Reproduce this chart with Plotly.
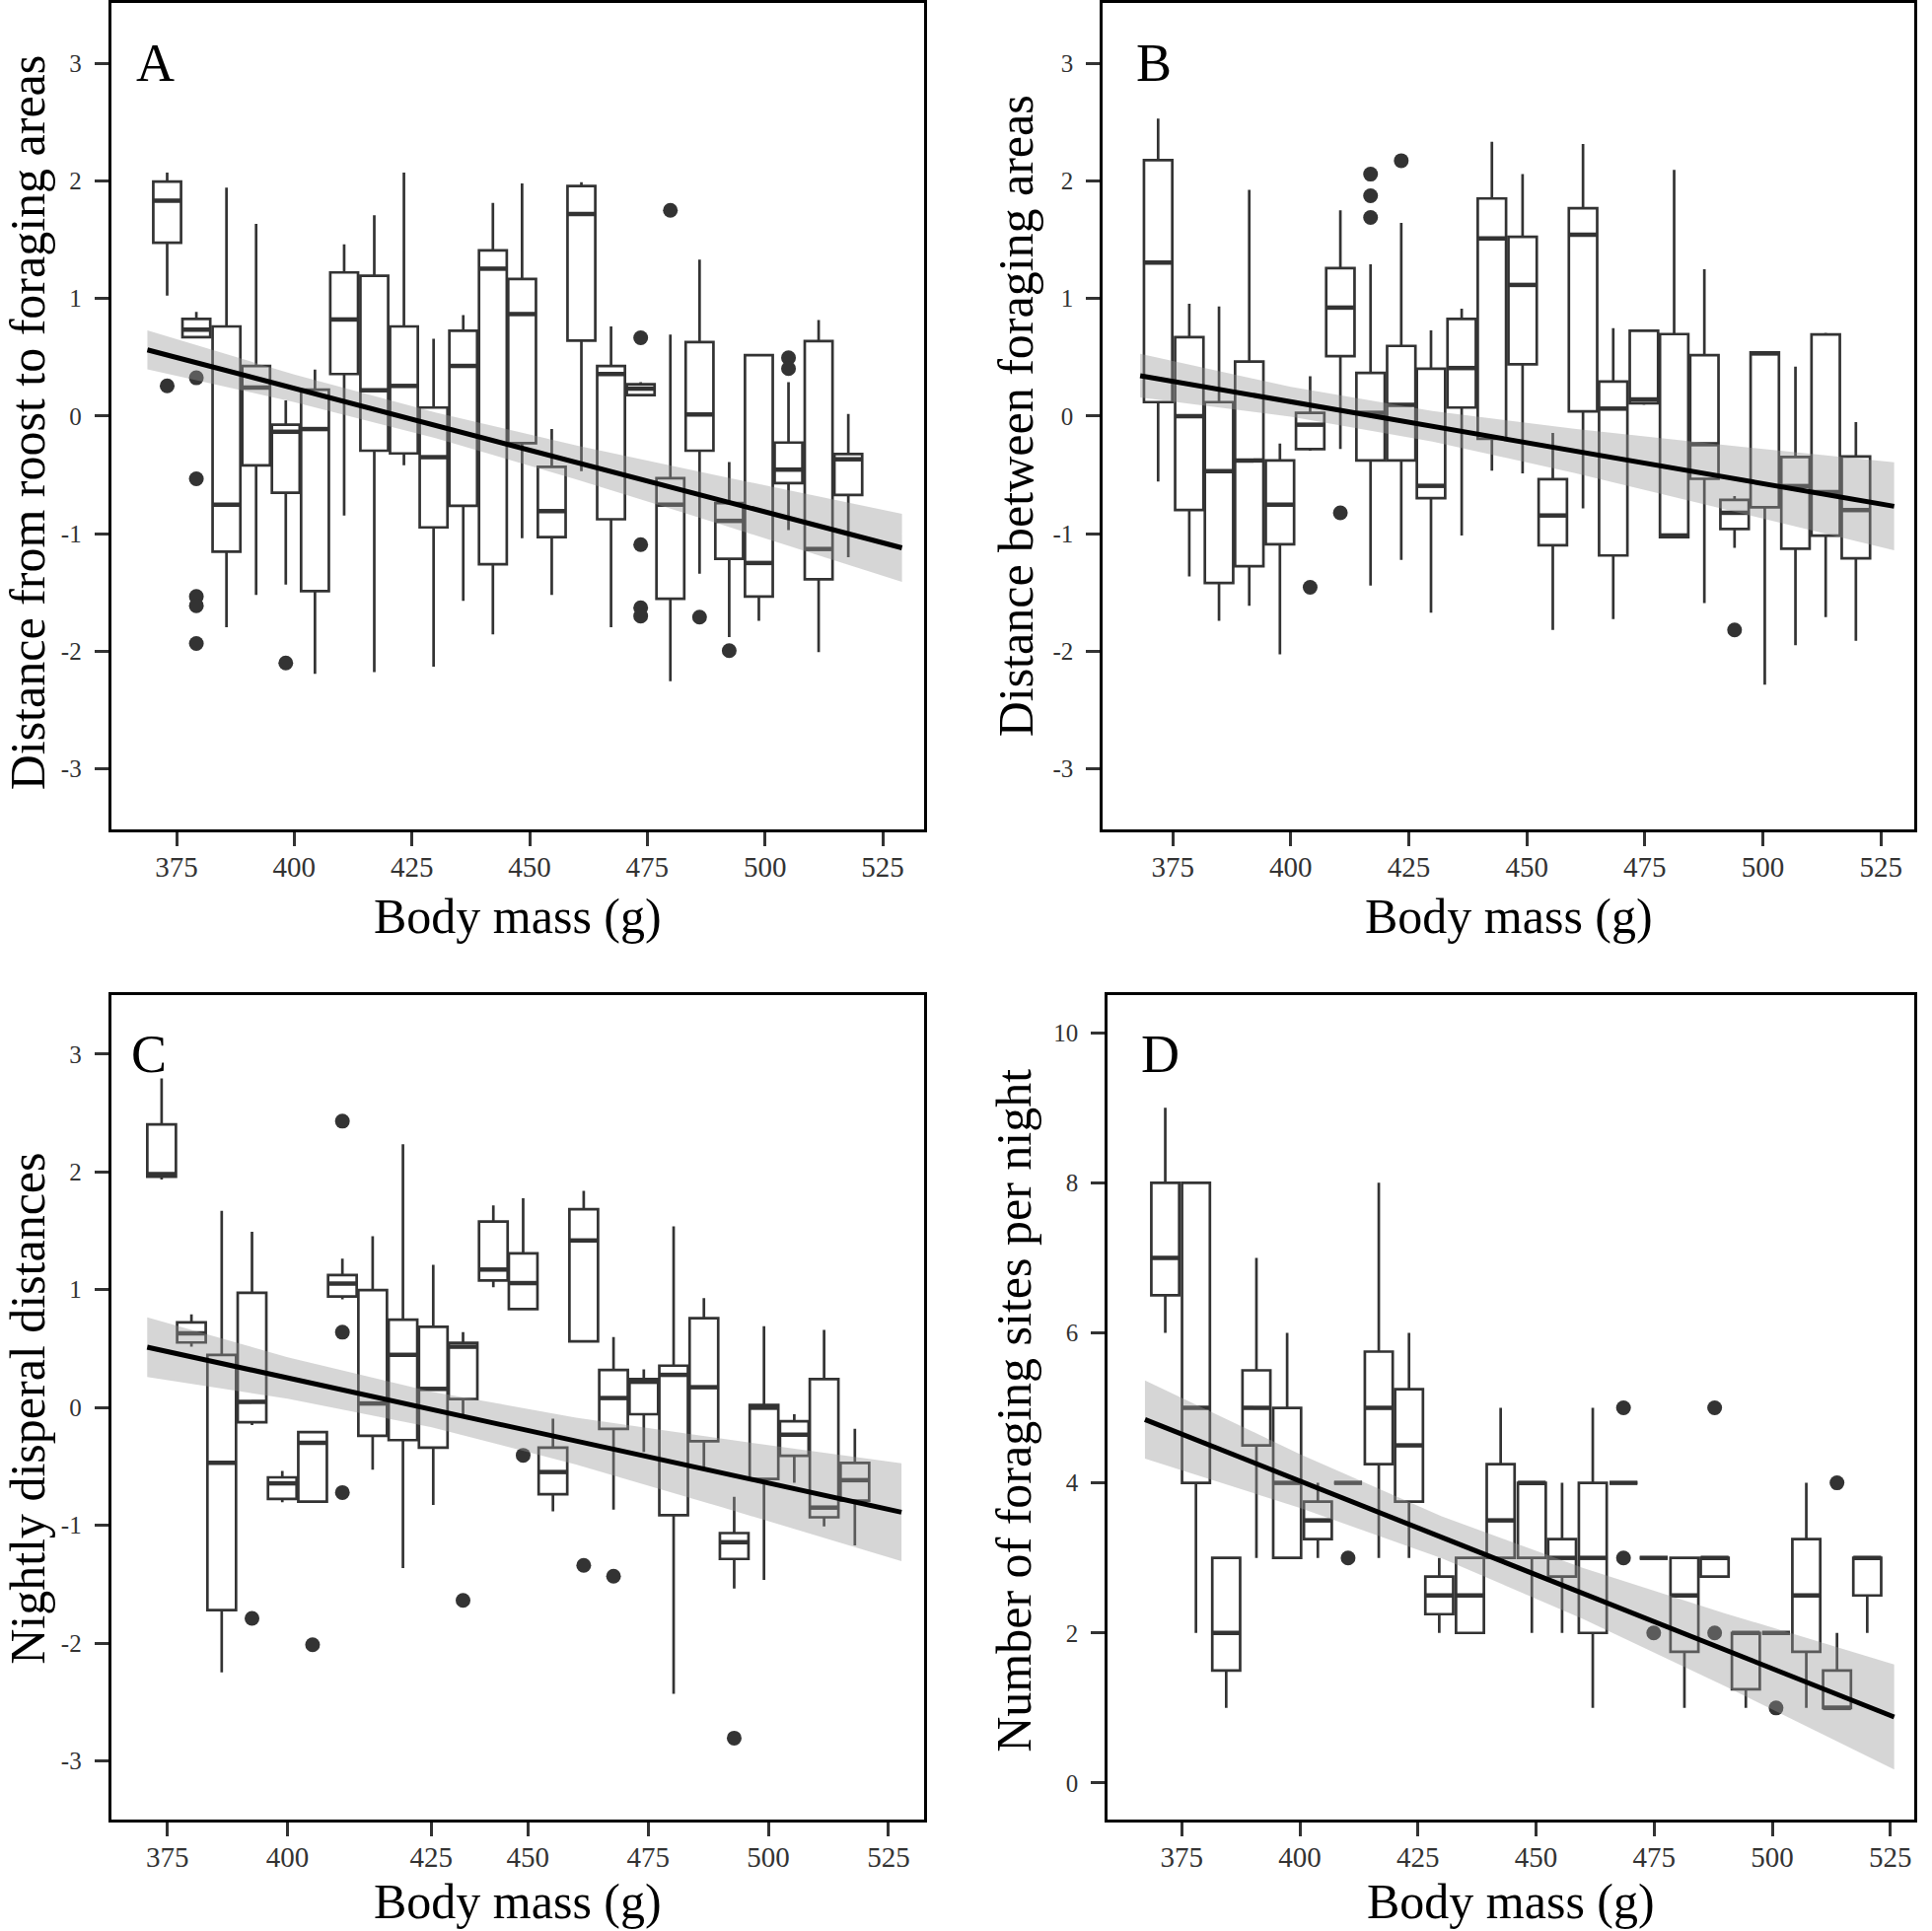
import plotly.graph_objects as go

# ---------------- Panel A: Distance from roost to foraging areas ----------------
A_mass = [373.0, 379.2, 385.6, 391.9, 398.2, 404.4, 410.6, 417.0, 423.3, 429.6, 435.9, 442.2,
          448.4, 454.7, 461.0, 467.3, 473.6, 479.9, 486.1, 492.4, 498.7, 505.0, 511.4, 517.7]
A_low = [1.024, 0.671, -1.796, -1.52, -1.433, -2.191, -0.845, -2.177, -0.418, -2.131, -1.571, -1.856,
         -1.038, -1.52, -0.469, -1.796, 0.179, -2.255, -1.341, -1.88, -1.741, -0.969, -2.007, -1.199]
A_q1 = [1.475, 0.671, -1.153, -0.418, -0.652, -1.488, 0.358, -0.294, -0.317, -0.946, -0.763, -1.259,
        -0.23, -1.029, 0.643, -0.877, 0.179, -1.553, -0.294, -1.213, -1.534, -0.57, -1.387, -0.671]
A_med = [1.833, 0.735, -0.753, 0.243, -0.133, -0.11, 0.822, 0.22, 0.257, -0.349, 0.427, 1.254,
         0.868, -0.808, 1.718, 0.358, 0.234, -0.753, 0.014, -0.891, -1.249, -0.455, -1.13, -0.367]
A_q3 = [1.994, 0.827, 0.763, 0.427, -0.073, 0.225, 1.222, 1.194, 0.763, 0.073, 0.726, 1.41,
        1.167, -0.432, 1.957, 0.427, 0.271, -0.528, 0.629, -0.74, 0.519, -0.225, 0.638, -0.322]
A_up = [2.072, 0.887, 1.943, 1.635, 0.133, 0.395, 1.461, 1.709, 2.072, 0.657, 0.859, 1.814,
        1.98, -0.11, 1.989, 0.763, 0.289, 0.694, 1.332, -0.39, 0.519, 0.289, 0.818, 0.018]
A_out_box = [0, 1, 1, 1, 1, 1, 4, 16, 16, 16, 16, 17, 18, 19, 21, 21]
A_out_val = [0.257, 0.326, -0.533, -1.534, -1.612, -1.934, -2.099, 0.666, -1.093, -1.63, -1.70,
             1.75, -1.709, -1.994, 0.496, 0.404]
A_fit_mass = [368.8, 529.1]
A_fit_val = [0.564, -1.12]
A_band_mass = [368.8, 400, 430, 460, 490, 529.1]
A_band_hi = [0.729, 0.353, 0.030, -0.249, -0.506, -0.83]
A_band_lo = [0.399, 0.119, -0.188, -0.539, -0.912, -1.41]

# ---------------- Panel B: Distance between foraging areas ----------------
B_mass = [371.9, 378.5, 384.8, 391.2, 397.7, 404.1, 410.5, 416.9, 423.4, 429.7, 436.2, 442.6,
          449.1, 455.5, 461.9, 468.3, 474.8, 481.2, 487.6, 494.0, 500.4, 506.9, 513.3, 519.7]
B_low = [-0.556, -1.364, -1.741, -1.612, -2.026, -0.294, -0.28, -1.442, -1.222, -1.672, -1.015, -0.464,
         -0.487, -1.819, -0.785, -1.727, 0.096, -1.038, -1.589, -1.121, -2.283, -1.948, -1.709, -1.911]
B_q1 = [0.119, -0.799, -1.419, -1.277, -1.089, -0.28, 0.51, -0.377, -0.377, -0.698, 0.073, -0.193,
        0.441, -1.098, 0.041, -1.185, 0.11, -1.029, -0.533, -0.96, -0.776, -1.128, -1.017, -1.209]
B_med = [1.305, 0.0, -0.469, -0.377, -0.753, -0.073, 0.923, 0.028, 0.096, -0.593, 0.409, 1.511,
         1.116, -0.845, 1.543, 0.064, 0.142, -1.015, -0.239, -0.822, 0.533, -0.595, -0.646, -0.799]
B_q3 = [2.177, 0.671, 0.119, 0.464, -0.377, 0.028, 1.259, 0.367, 0.597, 0.404, 0.827, 1.851,
        1.525, -0.537, 1.768, 0.294, 0.726, 0.698, 0.519, -0.712, 0.542, -0.347, 0.694, -0.344]
B_up = [2.531, 0.955, 0.932, 1.925, -0.234, 0.34, 1.75, 1.291, 1.644, 0.73, 0.914, 2.333,
        2.058, -0.142, 2.315, 0.749, 0.726, 2.095, 1.249, -0.68, 0.542, 0.421, 0.709, -0.051]
B_out_box = [5, 6, 7, 7, 7, 8, 19]
B_out_val = [-1.456, -0.822, 2.058, 1.874, 1.69, 2.173, -1.819]
B_fit_mass = [368.1, 527.8]
B_fit_val = [0.344, -0.767]
B_band_mass = [368.1, 400, 430, 460, 490, 527.8]
B_band_hi = [0.530, 0.249, 0.043, -0.108, -0.238, -0.393]
B_band_lo = [0.158, -0.005, -0.217, -0.482, -0.770, -1.141]

# ---------------- Panel C: Nightly disperal distances ----------------
C_mass = [373.8, 380.0, 386.3, 392.6, 398.9, 405.2, 411.4, 417.7, 424.0, 430.3, 436.5, 442.8,
          449.0, 455.2, 461.6, 467.8, 474.1, 480.3, 486.6, 492.9, 499.1, 505.4, 511.6, 518.0]
C_low = [1.936, 0.516, -2.248, -0.149, -0.804, -0.8, 0.919, -0.529, -1.363, -0.827, -0.057, 1.02,
         0.836, -0.882, 0.561, -0.868, -0.378, -2.431, -0.516, -1.538, -1.464, -0.639, -1.01, -1.171]
C_q1 = [1.959, 0.552, -1.721, -0.126, -0.777, -0.8, 0.942, -0.241, -0.277, -0.341, 0.071, 1.079,
        0.836, -0.736, 0.561, -0.181, -0.057, -0.914, -0.286, -1.286, -0.607, -0.41, -0.932, -0.791]
C_med = [1.982, 0.63, -0.47, 0.048, -0.644, -0.3, 1.052, 0.034, 0.447, 0.158, 0.516, 1.171,
         1.056, -0.548, 1.418, 0.08, 0.218, 0.277, 0.172, -1.144, -0.002, -0.231, -0.85, -0.617]
C_q3 = [2.404, 0.722, 0.447, 0.974, -0.593, -0.209, 1.125, 0.997, 0.745, 0.685, 0.548, 1.579,
        1.308, -0.341, 1.684, 0.319, 0.241, 0.355, 0.758, -1.066, 0.021, -0.117, 0.241, -0.47]
C_up = [2.793, 0.791, 1.67, 1.492, -0.538, -0.209, 1.263, 1.455, 2.234, 1.212, 0.639, 1.716,
        1.776, -0.094, 1.84, 0.598, 0.323, 1.538, 0.928, -0.758, 0.69, -0.057, 0.658, -0.181]
C_out_box = [3, 5, 6, 6, 6, 10, 12, 14, 15, 19]
C_out_val = [-1.79, -2.014, 2.431, 0.639, -0.722, -1.638, -0.406, -1.34, -1.432, -2.807]
C_fit_mass = [370.8, 527.7]
C_fit_val = [0.512, -0.889]
C_band_mass = [370.8, 400, 430, 460, 490, 527.7]
C_band_hi = [0.766, 0.427, 0.134, -0.086, -0.263, -0.474]
C_band_lo = [0.258, 0.075, -0.168, -0.484, -0.843, -1.304]
C_tick_pos = [375, 400, 429.9, 450, 475, 500, 525]
C_tick_text = ["375", "400", "425", "450", "475", "500", "525"]

# ---------------- Panel D: Number of foraging sites per night ----------------
D_mass = [371.5, 378.0, 384.4, 390.8, 397.3, 403.8, 410.2, 416.7, 423.1, 429.5, 436.0, 442.5,
          449.1, 455.5, 462.0, 468.5, 474.9, 481.4, 487.8, 494.4, 500.8, 507.2, 513.7, 520.1]
D_low = [6, 2, 1, 3, 3, 3, 4, 3, 3, 2, 2, 3, 2, 2, 1, 4, 3, 1, 2.75, 1, 2, 1, 1, 2]
D_q1 = [6.5, 4, 1.5, 4.5, 3, 3.25, 4, 4.25, 3.75, 2.25, 2, 3, 3, 2.75, 2, 4, 3, 1.75, 2.75, 1.25, 2, 1.75, 1, 2.5]
D_med = [7, 5, 2, 5, 4, 3.5, 4, 5, 4.5, 2.5, 2.5, 3.5, 4, 3, 3, 4, 3, 2.5, 3, 2, 2, 2.5, 1, 3]
D_q3 = [8, 8, 3, 5.5, 5, 3.75, 4, 5.75, 5.25, 2.75, 3, 4.25, 4, 3.25, 4, 4, 3, 3, 3, 2, 2, 3.25, 1.5, 3]
D_up = [9, 8, 3, 7, 6, 4, 4, 8, 6, 3, 3, 5, 4, 4, 5, 4, 3, 3, 3, 2, 2, 4, 2, 3]
D_out_box = [6, 15, 15, 16, 18, 18, 20, 22]
D_out_val = [3, 5, 3, 2, 5, 2, 1, 4]
D_fit_mass = [367.2, 525.8]
D_fit_val = [4.845, 0.88]
D_band_mass = [367.2, 400, 430, 460, 490, 525.8]
D_band_hi = [5.365, 4.384, 3.555, 2.865, 2.261, 1.58]
D_band_lo = [4.325, 3.666, 2.995, 2.185, 1.289, 0.18]

X_TICKS = [375, 400, 425, 450, 475, 500, 525]
X_TICK_TEXT = ["375", "400", "425", "450", "475", "500", "525"]
Y_TICKS_Z = [-3, -2, -1, 0, 1, 2, 3]
Y_TICK_TEXT_Z = ["-3", "-2", "-1", "0", "1", "2", "3"]
Y_TICKS_D = [0, 2, 4, 6, 8, 10]
Y_TICK_TEXT_D = ["0", "2", "4", "6", "8", "10"]

Y_TITLES = ["Distance from roost to foraging areas", "Distance between foraging areas",
            "Nightly disperal distances", "Number of foraging sites per night"]
LETTERS = ["A", "B", "C", "D"]
X_TITLE = "Body mass (g)"

FONT = "Liberation Serif"
DARK = "#333333"

panels = [
    dict(mass=A_mass, low=A_low, q1=A_q1, med=A_med, q3=A_q3, up=A_up, ob=A_out_box, ov=A_out_val,
         fm=A_fit_mass, fv=A_fit_val, bm=A_band_mass, bh=A_band_hi, bl=A_band_lo, w=5.9),
    dict(mass=B_mass, low=B_low, q1=B_q1, med=B_med, q3=B_q3, up=B_up, ob=B_out_box, ov=B_out_val,
         fm=B_fit_mass, fv=B_fit_val, bm=B_band_mass, bh=B_band_hi, bl=B_band_lo, w=6.0),
    dict(mass=C_mass, low=C_low, q1=C_q1, med=C_med, q3=C_q3, up=C_up, ob=C_out_box, ov=C_out_val,
         fm=C_fit_mass, fv=C_fit_val, bm=C_band_mass, bh=C_band_hi, bl=C_band_lo, w=5.95),
    dict(mass=D_mass, low=D_low, q1=D_q1, med=D_med, q3=D_q3, up=D_up, ob=D_out_box, ov=D_out_val,
         fm=D_fit_mass, fv=D_fit_val, bm=D_band_mass, bh=D_band_hi, bl=D_band_lo, w=5.9),
]

fig = go.Figure()
axn = ["", "2", "3", "4"]

# boxes first (drawn below scatter layers)
for i, p in enumerate(panels):
    fig.add_trace(go.Box(
        x=p["mass"], q1=p["q1"], median=p["med"], q3=p["q3"],
        lowerfence=p["low"], upperfence=p["up"], width=p["w"],
        boxpoints=False, whiskerwidth=0, fillcolor="white",
        line=dict(color=DARK, width=2.7), showlegend=False, hoverinfo="skip",
        xaxis="x" + axn[i], yaxis="y" + axn[i]))

for i, p in enumerate(panels):
    xa, ya = "x" + axn[i], "y" + axn[i]
    mx, my = [], []
    for m, v in zip(p["mass"], p["med"]):
        mx += [m - p["w"] / 2, m + p["w"] / 2, None]
        my += [v, v, None]
    fig.add_trace(go.Scatter(x=mx, y=my, mode="lines", line=dict(color=DARK, width=4.5),
                             showlegend=False, hoverinfo="skip", xaxis=xa, yaxis=ya))
    fig.add_trace(go.Scatter(x=[p["mass"][b] for b in p["ob"]], y=p["ov"], mode="markers",
                             marker=dict(color=DARK, size=15), showlegend=False,
                             hoverinfo="skip", xaxis=xa, yaxis=ya))
    fig.add_trace(go.Scatter(x=p["bm"] + p["bm"][::-1], y=p["bh"] + p["bl"][::-1],
                             fill="toself", fillcolor="rgba(153,153,153,0.4)",
                             line=dict(width=0), mode="lines", showlegend=False,
                             hoverinfo="skip", xaxis=xa, yaxis=ya))
    fig.add_trace(go.Scatter(x=p["fm"], y=p["fv"], mode="lines", line=dict(color="black", width=5),
                             showlegend=False, hoverinfo="skip", xaxis=xa, yaxis=ya))

W, H = 1959, 1958
common_x = dict(showgrid=False, zeroline=False, showline=True, mirror=True, linecolor="black",
                linewidth=3, ticks="outside", ticklen=14, tickwidth=3, tickcolor=DARK,
                tickfont=dict(family=FONT, size=29, color=DARK), ticklabelstandoff=-4)
common_y = dict(showgrid=False, zeroline=False, showline=True, mirror=True, linecolor="black",
                linewidth=3, ticks="outside", ticklen=14, tickwidth=3, tickcolor=DARK,
                tickfont=dict(family=FONT, size=25, color=DARK), ticklabelstandoff=8)

top_dom = [1 - 839.3 / H, 1.0]
bot_dom = [1 - 1845 / H, 1 - 1007.7 / H]
fig.update_layout(
    width=W, height=H, margin=dict(l=0, r=0, t=0, b=0),
    paper_bgcolor="white", plot_bgcolor="white",
    xaxis=dict(common_x, anchor="y", domain=[112.7 / W, 937 / W], range=[361.1, 533.8],
               tickvals=X_TICKS, ticktext=X_TICK_TEXT),
    yaxis=dict(common_y, anchor="x", domain=top_dom, range=[-3.515, 3.514],
               tickvals=Y_TICKS_Z, ticktext=Y_TICK_TEXT_Z),
    xaxis2=dict(common_x, anchor="y2", domain=[1118.3 / W, 1941 / W], range=[360.2, 532.06],
                tickvals=X_TICKS, ticktext=X_TICK_TEXT),
    yaxis2=dict(common_y, anchor="x2", domain=top_dom, range=[-3.515, 3.514],
                tickvals=Y_TICKS_Z, ticktext=Y_TICK_TEXT_Z),
    xaxis3=dict(common_x, anchor="y3", domain=[112.7 / W, 937 / W], range=[363.3, 532.4],
                tickvals=C_tick_pos, ticktext=C_tick_text),
    yaxis3=dict(common_y, anchor="x3", domain=bot_dom, range=[-3.5, 3.5],
                tickvals=Y_TICKS_Z, ticktext=Y_TICK_TEXT_Z),
    xaxis4=dict(common_x, anchor="y4", domain=[1123.3 / W, 1941 / W], range=[359.34, 530.05],
                tickvals=X_TICKS, ticktext=X_TICK_TEXT),
    yaxis4=dict(common_y, anchor="x4", domain=bot_dom, range=[-0.49, 10.5],
                tickvals=Y_TICKS_D, ticktext=Y_TICK_TEXT_D),
)

ann = []
# x titles
for cx, cy in [(525, 927), (1530, 927), (525, 1928), (1532, 1928)]:
    ann.append(dict(x=cx / W, y=1 - cy / H, xref="paper", yref="paper", text=X_TITLE,
                    showarrow=False, xanchor="center", yanchor="middle",
                    font=dict(family=FONT, size=50, color="black")))
# y titles
for t, (cx, cy) in zip(Y_TITLES, [(28, 426), (1030, 420), (28, 1428), (1028, 1430)]):
    ann.append(dict(x=cx / W, y=1 - cy / H, xref="paper", yref="paper", text=t, textangle=-90,
                    showarrow=False, xanchor="center", yanchor="middle",
                    font=dict(family=FONT, size=50, color="black")))
# panel letters
for t, (lx, ly) in zip(LETTERS, [(136, 61), (1150, 61), (131, 1068), (1155, 1068)]):
    ann.append(dict(x=lx / W, y=1 - ly / H, xref="paper", yref="paper", text=t,
                    showarrow=False, xanchor="left", yanchor="middle",
                    font=dict(family=FONT, size=54, color="black")))
fig.update_layout(annotations=ann)

fig.write_html("out.html", config={"displayModeBar": False},
               post_script="document.body.style.margin='0';document.body.style.overflow='hidden';")
